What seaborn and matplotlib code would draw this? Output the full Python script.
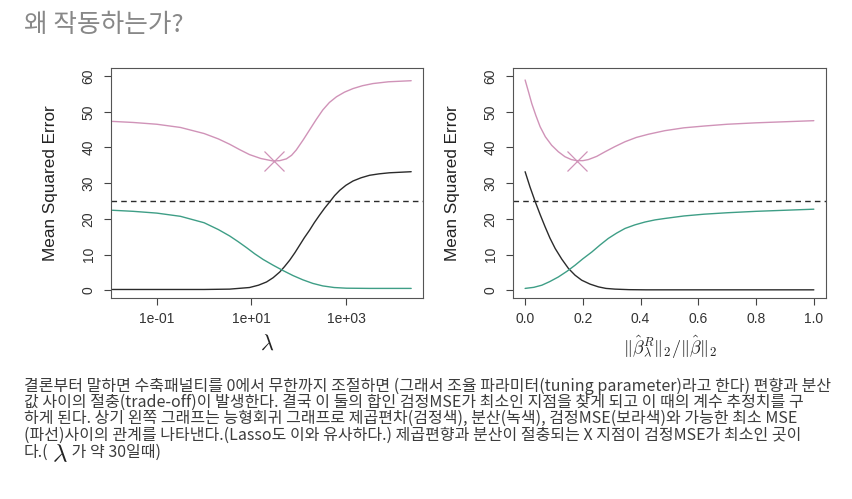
import matplotlib
matplotlib.use("Agg")
import matplotlib.pyplot as plt
import seaborn as sns

# 왼쪽 그래프: log10(lambda) 에 따른 값
left_log_lam_mse = [-1.94, -1.5, -1.0, -0.5, 0.0, 0.3, 0.54, 0.75, 0.96, 1.2, 1.46, 1.6,
                    1.74, 1.85, 1.95, 2.1, 2.23, 2.37, 2.51, 2.65, 2.8, 2.97, 3.15, 3.35,
                    3.57, 3.9, 4.38]
left_mse = [47.3, 47.0, 46.5, 45.6, 43.9, 42.4, 40.9, 39.4, 38.0, 36.9, 36.2, 36.3,
            36.8, 37.8, 39.3, 42.2, 44.9, 47.8, 50.5, 52.6, 54.2, 55.5, 56.5, 57.3,
            57.9, 58.4, 58.7]

left_log_lam_bias = [-1.94, -1.0, 0.0, 0.54, 0.96, 1.15, 1.32, 1.46, 1.6, 1.7, 1.81, 1.92,
                     2.02, 2.12, 2.23, 2.33, 2.44, 2.55, 2.66, 2.76, 2.87, 3.0, 3.15, 3.32,
                     3.5, 3.7, 3.92, 4.38]
left_bias = [0.2, 0.2, 0.2, 0.3, 0.75, 1.4, 2.3, 3.5, 5.1, 6.6, 8.4, 10.5,
             12.6, 14.7, 16.8, 18.9, 21.0, 23.0, 24.8, 26.5, 28.0, 29.4, 30.6, 31.5,
             32.2, 32.6, 32.9, 33.2]

left_log_lam_var = [-1.94, -1.5, -1.0, -0.5, 0.0, 0.3, 0.54, 0.72, 0.9, 1.07, 1.25, 1.46,
                    1.67, 1.88, 2.09, 2.3, 2.51, 2.75, 3.01, 3.5, 4.38]
left_var = [22.4, 22.1, 21.6, 20.7, 18.9, 17.0, 15.2, 13.6, 11.9, 10.2, 8.6, 7.0,
            5.5, 4.1, 2.9, 1.9, 1.2, 0.75, 0.56, 0.5, 0.5]

# 오른쪽 그래프: ||beta_R||/||beta|| 에 따른 값
right_ratio_mse = [0.0, 0.012, 0.023, 0.037, 0.052, 0.07, 0.092, 0.115, 0.138, 0.16, 0.179,
                   0.2, 0.219, 0.248, 0.277, 0.31, 0.346, 0.385, 0.427, 0.484, 0.55, 0.62,
                   0.7, 0.8, 0.9, 1.0]
right_mse = [58.9, 55.5, 52.3, 49.0, 45.8, 43.0, 40.6, 38.8, 37.4, 36.6, 36.3,
             36.3, 36.6, 37.5, 38.8, 40.2, 41.6, 42.8, 43.7, 44.7, 45.5, 46.0,
             46.5, 46.9, 47.2, 47.5]

right_ratio_bias = [0.0, 0.017, 0.035, 0.052, 0.069, 0.086, 0.104, 0.127, 0.15, 0.173, 0.196,
                    0.225, 0.254, 0.28, 0.311, 0.36, 0.42, 0.6, 1.0]
right_bias = [33.2, 28.9, 24.8, 21.2, 17.8, 14.6, 11.7, 8.7, 6.1, 4.2, 2.8,
              1.7, 0.93, 0.5, 0.3, 0.15, 0.1, 0.1, 0.1]

right_ratio_var = [0.0, 0.03, 0.058, 0.085, 0.115, 0.145, 0.173, 0.2, 0.231, 0.26, 0.288,
                   0.317, 0.346, 0.38, 0.415, 0.45, 0.484, 0.55, 0.62, 0.7, 0.8, 0.9, 1.0]
right_var = [0.5, 0.8, 1.4, 2.4, 3.7, 5.3, 7.0, 8.8, 10.7, 12.7, 14.5,
             16.0, 17.3, 18.3, 19.1, 19.7, 20.1, 20.8, 21.3, 21.7, 22.1, 22.4, 22.7]

min_mse = 25.0
best_lam = 30.0
best_ratio = 0.18
best_mse = 36.2

title = "왜 작동하는가?"
body_lines = [
    "결론부터 말하면 수축패널티를 0에서 무한까지 조절하면 (그래서 조율 파라미터(tuning parameter)라고 한다) 편향과 분산",
    "값 사이의 절충(trade-off)이 발생한다. 결국 이 둘의 합인 검정MSE가 최소인 지점을 찾게 되고 이 때의 계수 추정치를 구",
    "하게 된다. 상기 왼쪽 그래프는 능형회귀 그래프로 제곱편차(검정색), 분산(녹색), 검정MSE(보라색)와 가능한 최소 MSE",
    "(파선)사이의 관계를 나타낸다.(Lasso도 이와 유사하다.) 제곱편향과 분산이 절충되는 X 지점이 검정MSE가 최소인 곳이",
]
last_parts = ["다.(", " 가 약 30일때)"]

sns.set_theme(style="white")
plt.rcParams['font.family'] = ['Liberation Sans', 'Noto Sans CJK KR', 'DejaVu Sans']
plt.rcParams['mathtext.fontset'] = 'cm'

purple = "#d093b8"
green = "#3e9e86"
black = "#2b2b2b"
kr = ['Noto Sans CJK KR', 'DejaVu Sans']

fig = plt.figure(figsize=(8.53, 4.99), dpi=100)
ax1 = fig.add_axes([0.1301, 0.402, 0.3658, 0.462])
ax2 = fig.add_axes([0.6014, 0.402, 0.3669, 0.462])

left_lam_mse = [10 ** v for v in left_log_lam_mse]
left_lam_bias = [10 ** v for v in left_log_lam_bias]
left_lam_var = [10 ** v for v in left_log_lam_var]

sns.lineplot(x=left_lam_mse, y=left_mse, ax=ax1, color=purple, lw=1.0, sort=False, estimator=None)
sns.lineplot(x=left_lam_bias, y=left_bias, ax=ax1, color=black, lw=1.0, sort=False, estimator=None)
sns.lineplot(x=left_lam_var, y=left_var, ax=ax1, color=green, lw=1.0, sort=False, estimator=None)
ax1.axhline(min_mse, color=black, lw=1.0, ls=(0, (4, 3)))
ax1.plot([best_lam], [best_mse], marker='x', color=purple, ms=14, mew=0.9)

sns.lineplot(x=right_ratio_mse, y=right_mse, ax=ax2, color=purple, lw=1.0, sort=False, estimator=None)
sns.lineplot(x=right_ratio_bias, y=right_bias, ax=ax2, color=black, lw=1.0, sort=False, estimator=None)
sns.lineplot(x=right_ratio_var, y=right_var, ax=ax2, color=green, lw=1.0, sort=False, estimator=None)
ax2.axhline(min_mse, color=black, lw=1.0, ls=(0, (4, 3)))
ax2.plot([best_ratio], [best_mse], marker='x', color=purple, ms=14, mew=0.9)

ax1.set_xscale('log')
ax1.set_xlim(10 ** -1.97, 10 ** 4.63)
ax1.set_xticks([1e-1, 1e1, 1e3])
ax1.set_xticklabels(["1e-01", "1e+01", "1e+03"])
ax1.minorticks_off()
ax2.set_xlim(-0.042, 1.042)
ax2.set_xticks([0.0, 0.2, 0.4, 0.6, 0.8, 1.0])
ax2.set_xticklabels(["0.0", "0.2", "0.4", "0.6", "0.8", "1.0"])

for ax in (ax1, ax2):
    ax.set_ylim(-2.3, 62.3)
    ax.set_yticks([0, 10, 20, 30, 40, 50, 60])
    ax.set_yticklabels(["0", "10", "20", "30", "40", "50", "60"], rotation=90, va='center')
    ax.tick_params(axis='both', direction='out', length=5, width=0.8, color='#444444',
                   labelsize=10, labelcolor='#333333', pad=5, left=True, bottom=True)
    ax.tick_params(axis='y', pad=6)
    for s in ax.spines.values():
        s.set_color('#555555')
        s.set_linewidth(0.8)
    ax.set_ylabel("Mean Squared Error", fontsize=12.3, color='#222222')
    ax.yaxis.set_label_coords(-0.17, 0.5)

ax1.set_xlabel(r'$\lambda$', fontsize=16, color='#222222')
ax1.xaxis.set_label_coords(0.5, -0.155)
ax2.set_xlabel(r'$\|\hat{\beta}^R_\lambda\|_2/\|\hat{\beta}\|_2$', fontsize=13, color='#222222')
ax2.xaxis.set_label_coords(0.5, -0.15)

# 제목과 본문
fig.text(24 / 853, 1 - 25 / 499, title, fontsize=18.5, color='#888888', va='center', family=kr)

fs = 11.5
line_y = [386, 402, 418, 435]
for txt, ypx in zip(body_lines, line_y):
    fig.text(24 / 853, 1 - ypx / 499, txt, fontsize=fs, color='#3c3c3c', va='center', family=kr)

renderer = fig.canvas.get_renderer()
t0 = fig.text(24 / 853, 1 - 452 / 499, last_parts[0], fontsize=fs, color='#3c3c3c', va='center',
              family=kr)
x_next = t0.get_window_extent(renderer).x1 + 3
t1 = fig.text(x_next / 853, 1 - 454 / 499, r'$\lambda$', fontsize=18, color='#222222', va='center')
x_next = t1.get_window_extent(renderer).x1 + 1
fig.text(x_next / 853, 1 - 452 / 499, last_parts[1], fontsize=fs, color='#3c3c3c', va='center',
         family=kr)

fig.savefig("out.png", dpi=100)
